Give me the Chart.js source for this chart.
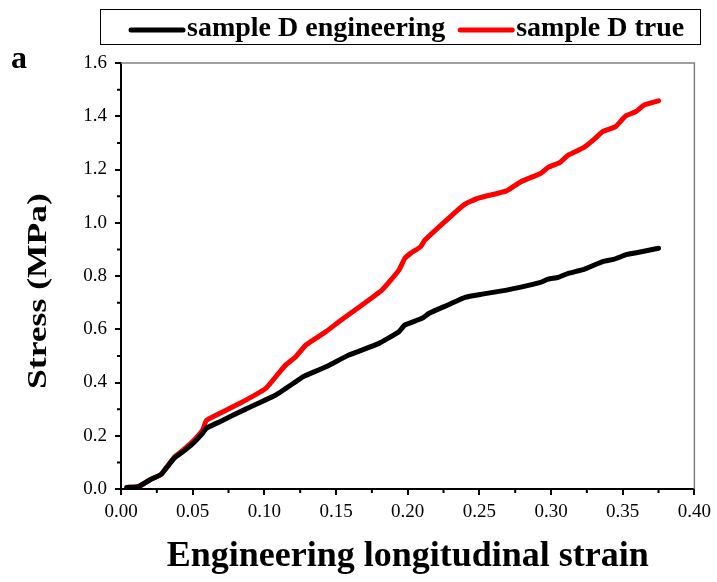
<!DOCTYPE html>
<html>
<head>
<meta charset="utf-8">
<script src="https://cdn.jsdelivr.net/npm/chart.js@4"></script>
<style>
  html, body { margin: 0; padding: 0; background: #fff; }
  #wrap { width: 717px; height: 582px; position: relative; }
</style>
</head>
<body>
<div id="wrap"><canvas id="c" width="717" height="582"></canvas></div>
<script>
// strain-stress curves
const engStrain = [0.004, 0.012, 0.020, 0.028, 0.033, 0.0375, 0.042, 0.050, 0.057, 0.0595, 0.069, 0.087, 0.108, 0.115, 0.122, 0.127, 0.143, 0.159, 0.180, 0.194, 0.198, 0.210, 0.215, 0.228, 0.240, 0.252, 0.269, 0.279, 0.292, 0.298, 0.305, 0.312, 0.323, 0.336, 0.344, 0.353, 0.363, 0.375];
const engStress = [0.006, 0.009, 0.034, 0.055, 0.088, 0.118, 0.135, 0.170, 0.210, 0.228, 0.253, 0.300, 0.353, 0.378, 0.403, 0.422, 0.459, 0.503, 0.547, 0.591, 0.616, 0.641, 0.660, 0.691, 0.720, 0.732, 0.747, 0.758, 0.775, 0.788, 0.795, 0.810, 0.825, 0.854, 0.863, 0.881, 0.891, 0.904];

const trueStrain = [0.004, 0.012, 0.020, 0.028, 0.033, 0.0375, 0.042, 0.050, 0.057, 0.0595, 0.0665, 0.083, 0.101, 0.110, 0.115, 0.122, 0.129, 0.143, 0.152, 0.182, 0.194, 0.198, 0.202, 0.209, 0.212, 0.231, 0.240, 0.249, 0.269, 0.279, 0.293, 0.298, 0.306, 0.312, 0.323, 0.330, 0.336, 0.345, 0.352, 0.359, 0.365, 0.375];
const trueStress = [0.006, 0.009, 0.034, 0.055, 0.090, 0.121, 0.140, 0.178, 0.222, 0.257, 0.278, 0.322, 0.378, 0.435, 0.466, 0.497, 0.541, 0.591, 0.628, 0.747, 0.823, 0.866, 0.885, 0.910, 0.935, 1.029, 1.070, 1.092, 1.120, 1.154, 1.186, 1.208, 1.226, 1.254, 1.283, 1.313, 1.342, 1.361, 1.401, 1.417, 1.442, 1.458];

const seriesLabels = ['sample D engineering', 'sample D true'];
const seriesColors = ['#000000', '#ff0000'];

const xTitle = 'Engineering longitudinal strain';
const yTitle = 'Stress (MPa)';
const panelLabel = 'a';

const serif = '"Liberation Serif", "Times New Roman", serif';

function toPoints(xs, ys) {
    return xs.map((x, i) => ({ x: x, y: ys[i] }));
}

// extra bits the library doesn't do: legend box, minor ticks, frame, y title
const decor = {
    id: 'decor',
    afterDraw(chart) {
        const ctx = chart.ctx;
        const area = chart.chartArea;
        const xs = chart.scales.x, ys = chart.scales.y;
        ctx.save();

        // gray top/right frame
        ctx.strokeStyle = '#808080';
        ctx.lineWidth = 1.5;
        ctx.beginPath();
        ctx.moveTo(area.left, area.top);
        ctx.lineTo(area.right, area.top);
        ctx.lineTo(area.right, area.bottom);
        ctx.stroke();

        // minor ticks
        ctx.strokeStyle = '#000';
        ctx.lineWidth = 2;
        ctx.beginPath();
        for (let v = 0.025; v < 0.4; v += 0.05) {
            const px = xs.getPixelForValue(v);
            ctx.moveTo(px, area.bottom);
            ctx.lineTo(px, area.bottom + 4);
        }
        for (let v = 0.1; v < 1.6; v += 0.2) {
            const py = ys.getPixelForValue(v);
            ctx.moveTo(area.left, py);
            ctx.lineTo(area.left - 4, py);
        }
        ctx.stroke();

        // y axis title (source text is a bit stretched lengthwise)
        ctx.fillStyle = '#000';
        ctx.font = 'bold 28px ' + serif;
        ctx.textAlign = 'center';
        ctx.textBaseline = 'middle';
        ctx.translate(39, 291);
        ctx.rotate(-Math.PI / 2);
        ctx.scale(1.27, 1);
        ctx.fillText(yTitle, 0, 0);
        ctx.setTransform(1, 0, 0, 1, 0, 0);

        // panel letter
        ctx.font = 'bold 32px ' + serif;
        ctx.textAlign = 'left';
        ctx.textBaseline = 'alphabetic';
        ctx.fillText(panelLabel, 11, 68);

        // legend box
        ctx.strokeStyle = '#000';
        ctx.lineWidth = 1;
        ctx.strokeRect(100.5, 9.5, 600, 35);
        ctx.font = 'bold 28px ' + serif;
        ctx.textBaseline = 'middle';
        let lx = 131;
        chart.data.datasets.forEach((ds) => {
            ctx.strokeStyle = ds.borderColor;
            ctx.lineWidth = 5;
            ctx.lineCap = 'round';
            ctx.beginPath();
            ctx.moveTo(lx, 30);
            ctx.lineTo(lx + 52, 30);
            ctx.stroke();
            ctx.fillStyle = '#000';
            ctx.fillText(ds.label, lx + 56, 29);
            lx += 56 + ctx.measureText(ds.label).width + 15;
        });
        ctx.restore();
    }
};

new Chart(document.getElementById('c'), {
    type: 'line',
    data: {
        datasets: [
            {
                label: seriesLabels[0],
                data: toPoints(engStrain, engStress),
                borderColor: seriesColors[0],
                borderWidth: 5,
                pointRadius: 0,
                tension: 0.15,
                borderCapStyle: 'round',
                borderJoinStyle: 'round'
            },
            {
                label: seriesLabels[1],
                data: toPoints(trueStrain, trueStress),
                borderColor: seriesColors[1],
                borderWidth: 5,
                pointRadius: 0,
                tension: 0.15,
                borderCapStyle: 'round',
                borderJoinStyle: 'round'
            }
        ]
    },
    options: {
        responsive: false,
        animation: false,
        layout: { padding: { top: 63, right: 21, left: 0, bottom: 0 } },
        plugins: {
            legend: { display: false },
            tooltip: { enabled: false }
        },
        scales: {
            x: {
                type: 'linear',
                min: 0,
                max: 0.4,
                afterFit: (s) => { s.height = 93; },
                border: { display: true, color: '#000', width: 2 },
                grid: { drawOnChartArea: false, drawTicks: true, tickLength: 6, color: '#000', lineWidth: 2 },
                ticks: {
                    stepSize: 0.05,
                    color: '#000',
                    padding: 6,
                    maxRotation: 0,
                    font: { family: serif, size: 19 },
                    callback: (v) => Number(v).toFixed(2)
                },
                title: {
                    display: true,
                    text: xTitle,
                    color: '#000',
                    padding: { top: 8 },
                    font: { family: serif, size: 36, weight: 'bold' }
                }
            },
            y: {
                type: 'linear',
                min: 0,
                max: 1.6,
                afterFit: (s) => { s.width = 121; },
                border: { display: true, color: '#000', width: 2 },
                grid: { drawOnChartArea: false, drawTicks: true, tickLength: 6, color: '#000', lineWidth: 2 },
                ticks: {
                    stepSize: 0.2,
                    color: '#000',
                    padding: 8,
                    font: { family: serif, size: 19 },
                    callback: (v) => Number(v).toFixed(1)
                }
            }
        }
    },
    plugins: [decor]
});
</script>
</body>
</html>
